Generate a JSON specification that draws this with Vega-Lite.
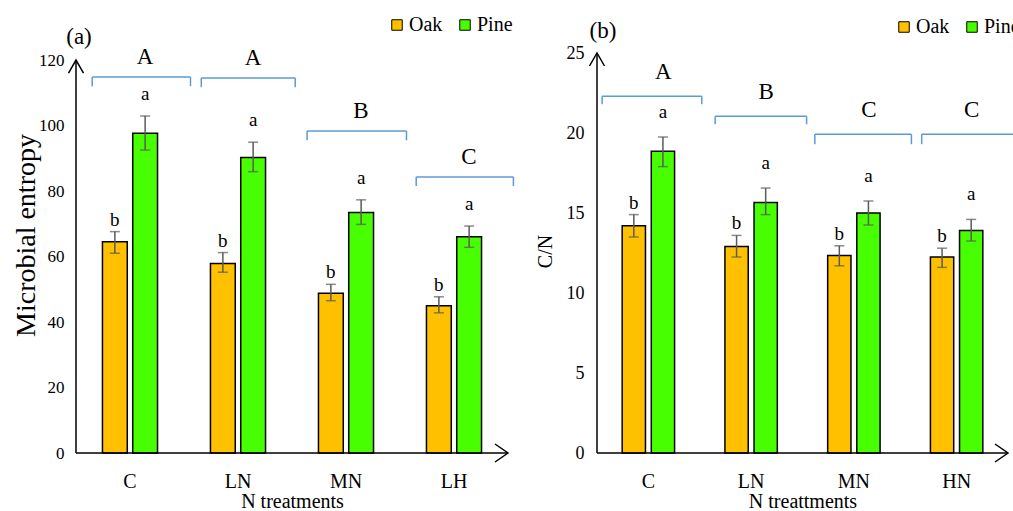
{
  "$schema": "https://vega.github.io/schema/vega-lite/v6.json",
  "autosize": {"type": "pad"},
  "padding": {"left": 12, "top": 15, "right": 0, "bottom": 0},
  "background": "white",
  "config": {"view": {"stroke": null}, "font": "Liberation Serif", "legend": {"labelFont": "Liberation Serif"}},
  "datasets": {
    "bars": [
      {"panel": "a", "trt": "C", "species": "Oak", "mean": 64.5, "lo": 61.0, "hi": 67.6, "sig": "b"},
      {"panel": "a", "trt": "C", "species": "Pine", "mean": 97.6, "lo": 92.5, "hi": 102.9, "sig": "a"},
      {"panel": "a", "trt": "LN", "species": "Oak", "mean": 57.9, "lo": 55.2, "hi": 61.2, "sig": "b"},
      {"panel": "a", "trt": "LN", "species": "Pine", "mean": 90.2, "lo": 85.9, "hi": 94.9, "sig": "a"},
      {"panel": "a", "trt": "MN", "species": "Oak", "mean": 48.8, "lo": 46.5, "hi": 51.5, "sig": "b"},
      {"panel": "a", "trt": "MN", "species": "Pine", "mean": 73.4, "lo": 69.8, "hi": 77.3, "sig": "a"},
      {"panel": "a", "trt": "LH", "species": "Oak", "mean": 45.0, "lo": 42.8, "hi": 47.7, "sig": "b"},
      {"panel": "a", "trt": "LH", "species": "Pine", "mean": 66.0, "lo": 62.8, "hi": 69.3, "sig": "a"},
      {"panel": "b", "trt": "C", "species": "Oak", "mean": 14.2, "lo": 13.5, "hi": 14.9, "sig": "b"},
      {"panel": "b", "trt": "C", "species": "Pine", "mean": 18.86, "lo": 17.9, "hi": 19.75, "sig": "a"},
      {"panel": "b", "trt": "LN", "species": "Oak", "mean": 12.9, "lo": 12.25, "hi": 13.6, "sig": "b"},
      {"panel": "b", "trt": "LN", "species": "Pine", "mean": 15.65, "lo": 14.9, "hi": 16.56, "sig": "a"},
      {"panel": "b", "trt": "MN", "species": "Oak", "mean": 12.35, "lo": 11.7, "hi": 12.95, "sig": "b"},
      {"panel": "b", "trt": "MN", "species": "Pine", "mean": 15.0, "lo": 14.25, "hi": 15.75, "sig": "a"},
      {"panel": "b", "trt": "HN", "species": "Oak", "mean": 12.25, "lo": 11.6, "hi": 12.8, "sig": "b"},
      {"panel": "b", "trt": "HN", "species": "Pine", "mean": 13.9, "lo": 13.25, "hi": 14.6, "sig": "a"}
    ],
    "groups": [
      {"panel": "a", "trt": "C", "grp": "A", "from": 0.15, "to": 1.06, "level": 114.8, "foot": 112.0},
      {"panel": "a", "trt": "LN", "grp": "A", "from": 1.16, "to": 2.03, "level": 114.5, "foot": 111.7},
      {"panel": "a", "trt": "MN", "grp": "B", "from": 2.14, "to": 3.06, "level": 98.3, "foot": 95.5},
      {"panel": "a", "trt": "LH", "grp": "C", "from": 3.15, "to": 4.05, "level": 84.3, "foot": 81.5},
      {"panel": "b", "trt": "C", "grp": "A", "from": 0.05, "to": 1.02, "level": 22.3, "foot": 21.8},
      {"panel": "b", "trt": "LN", "grp": "B", "from": 1.15, "to": 2.04, "level": 21.04, "foot": 20.54},
      {"panel": "b", "trt": "MN", "grp": "C", "from": 2.12, "to": 3.06, "level": 19.92, "foot": 19.3},
      {"panel": "b", "trt": "HN", "grp": "C", "from": 3.16, "to": 4.1, "level": 19.92, "foot": 19.3}
    ]
  },
  "spacing": 89,
  "bounds": "flush",
  "resolve": {"scale": {"color": "independent", "xOffset": "independent"}, "legend": {"color": "independent"}},
  "hconcat": [
    {
      "width": 432,
      "height": 400,
      "layer": [
        {
          "encoding": {
            "x": {
              "field": "trt", "type": "nominal",
              "scale": {"domain": ["C", "LN", "MN", "LH"], "paddingInner": 0.49, "paddingOuter": 0.245},
              "axis": {"title": "N treatments", "domain": false, "ticks": false, "tickSize": 0, "labelAngle": 0, "labelPadding": 18, "labelFont": "Liberation Serif", "labelFontSize": 20, "labelColor": "black", "titleFont": "Liberation Serif", "titleFontSize": 20, "titleFontWeight": "normal", "titleColor": "black", "titlePadding": 0}
            }
          },
          "layer": [
            {
              "data": {"name": "bars"},
              "transform": [{"filter": "datum.panel === 'a'"}],
              "mark": {"type": "bar", "stroke": "black", "strokeWidth": 1.5},
              "encoding": {
                "xOffset": {"field": "species", "type": "nominal", "scale": {"domain": ["Oak", "Pine"], "paddingInner": 0.18, "paddingOuter": 0}},
                "y": {
                  "field": "mean", "type": "quantitative", "title": "Microbial entropy",
                  "scale": {"domain": [0, 122.14], "nice": false, "zero": true},
                  "axis": {"values": [0, 20, 40, 60, 80, 100, 120], "domain": false, "ticks": false, "tickSize": 0, "grid": false, "labelPadding": 12, "labelFont": "Liberation Serif", "labelFontSize": 17, "labelColor": "black", "titleFont": "Liberation Serif", "titleFontSize": 28, "titleFontWeight": "normal", "titleColor": "black", "titleAngle": -90, "titleAlign": "center", "titleBaseline": "middle", "titleX": -50, "titleY": 182}
                },
                "color": {
                  "field": "species", "type": "nominal",
                  "scale": {"domain": ["Oak", "Pine"], "range": ["#FFC000", "#47FF00"]},
                  "legend": {"orient": "none", "legendX": 311, "legendY": -38, "direction": "horizontal", "title": null, "padding": 0, "symbolType": "square", "symbolSize": 110, "symbolStrokeColor": "black", "symbolStrokeWidth": 1, "labelFont": "Times New Roman", "labelFontSize": 20, "labelColor": "black", "labelOffset": 2, "columnPadding": 12}
                }
              }
            },
            {
              "data": {"name": "bars"},
              "transform": [{"filter": "datum.panel === 'a'"}],
              "mark": {"type": "rule", "color": "#5a5a5a", "strokeWidth": 1.5},
              "encoding": {
                "xOffset": {"field": "species", "type": "nominal"},
                "y": {"field": "lo", "type": "quantitative", "title": "Microbial entropy"},
                "y2": {"field": "hi"}
              }
            },
            {
              "data": {"name": "bars"},
              "transform": [{"filter": "datum.panel === 'a'"}],
              "mark": {"type": "tick", "orient": "horizontal", "color": "#5a5a5a", "size": 10, "thickness": 1.5},
              "encoding": {
                "xOffset": {"field": "species", "type": "nominal"},
                "y": {"field": "hi", "type": "quantitative", "title": "Microbial entropy"}
              }
            },
            {
              "data": {"name": "bars"},
              "transform": [{"filter": "datum.panel === 'a'"}],
              "mark": {"type": "tick", "orient": "horizontal", "color": "#5a5a5a", "size": 10, "thickness": 1.5},
              "encoding": {
                "xOffset": {"field": "species", "type": "nominal"},
                "y": {"field": "lo", "type": "quantitative", "title": "Microbial entropy"}
              }
            },
            {
              "data": {"name": "bars"},
              "transform": [{"filter": "datum.panel === 'a' && datum.species === 'Oak'"}],
              "mark": {"type": "text", "dy": -12, "baseline": "middle", "font": "Liberation Serif", "fontSize": 19, "color": "black"},
              "encoding": {
                "xOffset": {"field": "species", "type": "nominal"},
                "y": {"field": "hi", "type": "quantitative", "title": "Microbial entropy"},
                "text": {"field": "sig"}
              }
            },
            {
              "data": {"name": "bars"},
              "transform": [{"filter": "datum.panel === 'a' && datum.species === 'Pine'"}],
              "mark": {"type": "text", "dy": -22, "baseline": "middle", "font": "Liberation Serif", "fontSize": 19, "color": "black"},
              "encoding": {
                "xOffset": {"field": "species", "type": "nominal"},
                "y": {"field": "hi", "type": "quantitative", "title": "Microbial entropy"},
                "text": {"field": "sig"}
              }
            },
            {
              "data": {"name": "groups"},
              "transform": [{"filter": "datum.panel === 'a'"}],
              "mark": {"type": "text", "dx": 15, "dy": -20, "baseline": "middle", "font": "Liberation Serif", "fontSize": 23, "color": "black"},
              "encoding": {
                "y": {"field": "level", "type": "quantitative", "title": "Microbial entropy"},
                "text": {"field": "grp"}
              }
            }
          ]
        },
        {
          "encoding": {
            "x": {"type": "quantitative", "scale": {"domain": [0, 4], "nice": false, "zero": false}, "axis": null}
          },
          "layer": [
            {
              "data": {"name": "groups"},
              "transform": [{"filter": "datum.panel === 'a'"}],
              "mark": {"type": "rule", "color": "#5B9BD5", "strokeWidth": 1.5},
              "encoding": {
                "x": {"field": "from", "type": "quantitative"},
                "x2": {"field": "to"},
                "y": {"field": "level", "type": "quantitative", "title": "Microbial entropy"}
              }
            },
            {
              "data": {"name": "groups"},
              "transform": [{"filter": "datum.panel === 'a'"}],
              "mark": {"type": "rule", "color": "#5B9BD5", "strokeWidth": 1.5},
              "encoding": {
                "x": {"field": "from", "type": "quantitative"},
                "y": {"field": "level", "type": "quantitative", "title": "Microbial entropy"},
                "y2": {"field": "foot"}
              }
            },
            {
              "data": {"name": "groups"},
              "transform": [{"filter": "datum.panel === 'a'"}],
              "mark": {"type": "rule", "color": "#5B9BD5", "strokeWidth": 1.5},
              "encoding": {
                "x": {"field": "to", "type": "quantitative"},
                "y": {"field": "level", "type": "quantitative", "title": "Microbial entropy"},
                "y2": {"field": "foot"}
              }
            },
            {
              "data": {"values": [{}]},
              "mark": {"type": "rule", "color": "black", "strokeWidth": 1.5},
              "encoding": {"x": {"datum": 0}, "y": {"datum": 0}, "y2": {"datum": 120}}
            },
            {
              "data": {"values": [{}]},
              "mark": {"type": "rule", "color": "black", "strokeWidth": 1.5},
              "encoding": {"x": {"datum": 0}, "x2": {"datum": 4}, "y": {"datum": 0}}
            },
            {
              "data": {"values": [{}]},
              "mark": {"type": "point", "shape": "M-1.5,2.6L0,0L1.5,2.6", "filled": false, "stroke": "black", "strokeWidth": 1.5, "size": 100, "opacity": 1},
              "encoding": {"x": {"datum": 0}, "y": {"datum": 120}}
            },
            {
              "data": {"values": [{}]},
              "mark": {"type": "point", "shape": "M-2.6,-1.8L0,0L-2.6,1.8", "filled": false, "stroke": "black", "strokeWidth": 1.5, "size": 100, "opacity": 1},
              "encoding": {"x": {"datum": 4}, "y": {"datum": 0}}
            },
            {
              "data": {"values": [{}]},
              "mark": {"type": "text", "text": "(a)", "dx": 3, "dy": -16, "baseline": "alphabetic", "align": "center", "font": "Liberation Serif", "fontSize": 23, "color": "black"},
              "encoding": {"x": {"datum": 0}, "y": {"datum": 120}}
            }
          ]
        }
      ],
      "resolve": {"scale": {"x": "independent"}, "axis": {"x": "independent"}}
    },
    {
      "width": 411,
      "height": 400,
      "layer": [
        {
          "encoding": {
            "x": {
              "field": "trt", "type": "nominal",
              "scale": {"domain": ["C", "LN", "MN", "HN"], "paddingInner": 0.49, "paddingOuter": 0.245},
              "axis": {"title": "N treattments", "domain": false, "ticks": false, "tickSize": 0, "labelAngle": 0, "labelPadding": 18, "labelFont": "Liberation Serif", "labelFontSize": 20, "labelColor": "black", "titleFont": "Liberation Serif", "titleFontSize": 20, "titleFontWeight": "normal", "titleColor": "black", "titlePadding": 0}
            }
          },
          "layer": [
            {
              "data": {"name": "bars"},
              "transform": [{"filter": "datum.panel === 'b'"}],
              "mark": {"type": "bar", "stroke": "black", "strokeWidth": 1.5},
              "encoding": {
                "xOffset": {"field": "species", "type": "nominal", "scale": {"domain": ["Oak", "Pine"], "paddingInner": 0.2, "paddingOuter": 0}},
                "y": {
                  "field": "mean", "type": "quantitative", "title": "C/N",
                  "scale": {"domain": [0, 25], "nice": false, "zero": true},
                  "axis": {"values": [0, 5, 10, 15, 20, 25], "domain": false, "ticks": false, "tickSize": 0, "grid": false, "labelPadding": 13, "labelFont": "Liberation Serif", "labelFontSize": 18, "labelColor": "black", "titleFont": "Liberation Serif", "titleFontSize": 20, "titleFontWeight": "normal", "titleColor": "black", "titleAngle": -90, "titleAlign": "center", "titleBaseline": "middle", "titleX": -52, "titleY": 198}
                },
                "color": {
                  "field": "species", "type": "nominal",
                  "scale": {"domain": ["Oak", "Pine"], "range": ["#FFC000", "#47FF00"]},
                  "legend": {"orient": "none", "legendX": 297, "legendY": -36, "direction": "horizontal", "title": null, "padding": 0, "symbolType": "square", "symbolSize": 110, "symbolStrokeColor": "black", "symbolStrokeWidth": 1, "labelFont": "serif", "labelFontSize": 20, "labelColor": "black", "labelOffset": 2, "columnPadding": 12}
                }
              }
            },
            {
              "data": {"name": "bars"},
              "transform": [{"filter": "datum.panel === 'b'"}],
              "mark": {"type": "rule", "color": "#5a5a5a", "strokeWidth": 1.5},
              "encoding": {
                "xOffset": {"field": "species", "type": "nominal"},
                "y": {"field": "lo", "type": "quantitative", "title": "C/N"},
                "y2": {"field": "hi"}
              }
            },
            {
              "data": {"name": "bars"},
              "transform": [{"filter": "datum.panel === 'b'"}],
              "mark": {"type": "tick", "orient": "horizontal", "color": "#5a5a5a", "size": 10, "thickness": 1.5},
              "encoding": {
                "xOffset": {"field": "species", "type": "nominal"},
                "y": {"field": "hi", "type": "quantitative", "title": "C/N"}
              }
            },
            {
              "data": {"name": "bars"},
              "transform": [{"filter": "datum.panel === 'b'"}],
              "mark": {"type": "tick", "orient": "horizontal", "color": "#5a5a5a", "size": 10, "thickness": 1.5},
              "encoding": {
                "xOffset": {"field": "species", "type": "nominal"},
                "y": {"field": "lo", "type": "quantitative", "title": "C/N"}
              }
            },
            {
              "data": {"name": "bars"},
              "transform": [{"filter": "datum.panel === 'b' && datum.species === 'Oak'"}],
              "mark": {"type": "text", "dy": -12, "baseline": "middle", "font": "Liberation Serif", "fontSize": 19, "color": "black"},
              "encoding": {
                "xOffset": {"field": "species", "type": "nominal"},
                "y": {"field": "hi", "type": "quantitative", "title": "C/N"},
                "text": {"field": "sig"}
              }
            },
            {
              "data": {"name": "bars"},
              "transform": [{"filter": "datum.panel === 'b' && datum.species === 'Pine'"}],
              "mark": {"type": "text", "dy": -25, "baseline": "middle", "font": "Liberation Serif", "fontSize": 19, "color": "black"},
              "encoding": {
                "xOffset": {"field": "species", "type": "nominal"},
                "y": {"field": "hi", "type": "quantitative", "title": "C/N"},
                "text": {"field": "sig"}
              }
            },
            {
              "data": {"name": "groups"},
              "transform": [{"filter": "datum.panel === 'b'"}],
              "mark": {"type": "text", "dx": 15, "dy": -24, "baseline": "middle", "font": "Liberation Serif", "fontSize": 23, "color": "black"},
              "encoding": {
                "y": {"field": "level", "type": "quantitative", "title": "C/N"},
                "text": {"field": "grp"}
              }
            }
          ]
        },
        {
          "encoding": {
            "x": {"type": "quantitative", "scale": {"domain": [0, 4], "nice": false, "zero": false}, "axis": null}
          },
          "layer": [
            {
              "data": {"name": "groups"},
              "transform": [{"filter": "datum.panel === 'b'"}],
              "mark": {"type": "rule", "color": "#5B9BD5", "strokeWidth": 1.5},
              "encoding": {
                "x": {"field": "from", "type": "quantitative"},
                "x2": {"field": "to"},
                "y": {"field": "level", "type": "quantitative", "title": "C/N"}
              }
            },
            {
              "data": {"name": "groups"},
              "transform": [{"filter": "datum.panel === 'b'"}],
              "mark": {"type": "rule", "color": "#5B9BD5", "strokeWidth": 1.5},
              "encoding": {
                "x": {"field": "from", "type": "quantitative"},
                "y": {"field": "level", "type": "quantitative", "title": "C/N"},
                "y2": {"field": "foot"}
              }
            },
            {
              "data": {"name": "groups"},
              "transform": [{"filter": "datum.panel === 'b'"}],
              "mark": {"type": "rule", "color": "#5B9BD5", "strokeWidth": 1.5},
              "encoding": {
                "x": {"field": "to", "type": "quantitative"},
                "y": {"field": "level", "type": "quantitative", "title": "C/N"},
                "y2": {"field": "foot"}
              }
            },
            {
              "data": {"values": [{}]},
              "mark": {"type": "rule", "color": "black", "strokeWidth": 1.5},
              "encoding": {"x": {"datum": 0}, "y": {"datum": 0}, "y2": {"datum": 25}}
            },
            {
              "data": {"values": [{}]},
              "mark": {"type": "rule", "color": "black", "strokeWidth": 1.5},
              "encoding": {"x": {"datum": 0}, "x2": {"datum": 4}, "y": {"datum": 0}}
            },
            {
              "data": {"values": [{}]},
              "mark": {"type": "point", "shape": "M-1.5,2.6L0,0L1.5,2.6", "filled": false, "stroke": "black", "strokeWidth": 1.5, "size": 100, "opacity": 1},
              "encoding": {"x": {"datum": 0}, "y": {"datum": 25}}
            },
            {
              "data": {"values": [{}]},
              "mark": {"type": "point", "shape": "M-2.6,-1.8L0,0L-2.6,1.8", "filled": false, "stroke": "black", "strokeWidth": 1.5, "size": 100, "opacity": 1},
              "encoding": {"x": {"datum": 4}, "y": {"datum": 0}}
            },
            {
              "data": {"values": [{}]},
              "mark": {"type": "text", "text": "(b)", "dx": 6, "dy": -15, "baseline": "alphabetic", "align": "center", "font": "Liberation Serif", "fontSize": 23, "color": "black"},
              "encoding": {"x": {"datum": 0}, "y": {"datum": 25}}
            }
          ]
        }
      ],
      "resolve": {"scale": {"x": "independent"}, "axis": {"x": "independent"}}
    }
  ]
}
